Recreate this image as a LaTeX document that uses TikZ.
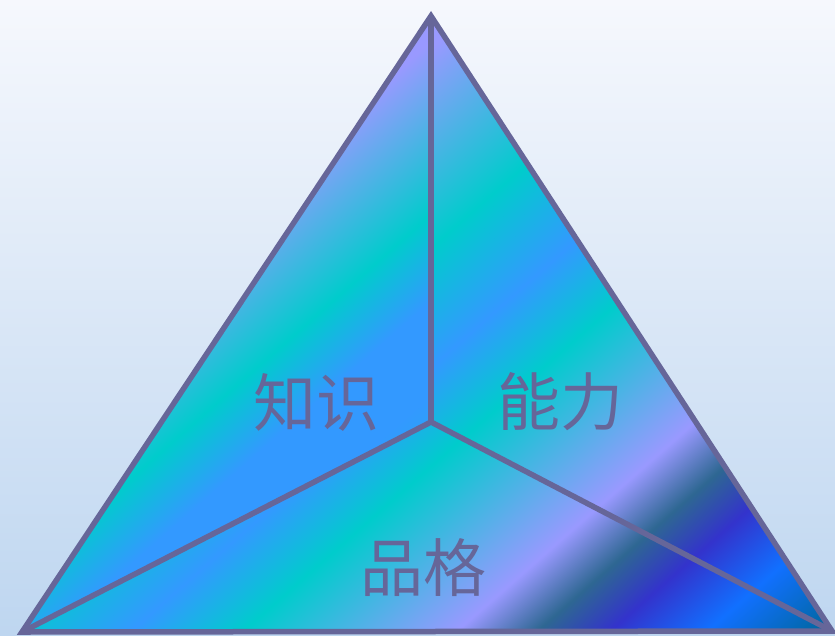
\documentclass[tikz,border=0pt]{standalone}
\usepackage{fontspec}
\newfontfamily\cjk{Noto Sans CJK SC}
\definecolor{bgTop}{RGB}{246,248,253}
\definecolor{bgBot}{RGB}{190,214,240}
\definecolor{edge}{RGB}{102,102,153}
\definecolor{pkLav}{RGB}{153,153,255}
\definecolor{pkTeal}{RGB}{0,204,204}
\definecolor{pkBlue}{RGB}{51,153,255}
\definecolor{pkDark}{RGB}{46,103,146}
\definecolor{pkDB}{RGB}{51,51,204}
\definecolor{pkBright}{RGB}{17,112,255}
\definecolor{pkDeep}{RGB}{0,102,153}
\pgfdeclarehorizontalshading{peacock}{1300pt}{color(0pt)=(pkLav); color(70pt)=(pkLav); color(220pt)=(pkTeal); color(310pt)=(pkBlue); color(384pt)=(pkTeal); color(525pt)=(pkLav); color(578pt)=(pkDark); color(626pt)=(pkDB); color(690pt)=(pkBright); color(771pt)=(pkDeep); color(800pt)=(pkDeep)}
\pgfdeclarehorizontalshading{peacockL}{1300pt}{color(0pt)=(pkLav); color(65pt)=(pkLav); color(195pt)=(pkTeal); color(260pt)=(pkBlue); color(330pt)=(pkBlue); color(370pt)=(pkBlue!80!pkTeal); color(800pt)=(pkBlue!80!pkTeal)}
\tikzset{
  edgeline/.style={draw=edge, line width=5.5pt, line join=miter},
  lbl/.style={text=edge, font=\cjk\fontsize{63}{63}\selectfont, inner sep=0pt},
  shadebox/.style={rotate=-48.7, inner sep=0pt, outer sep=0pt}
}
\begin{document}
\begin{tikzpicture}[x=1pt, y=-1pt]
\useasboundingbox (0,0) rectangle (835,635);
\shade[top color=bgTop, bottom color=bgBot] (0,0) rectangle (835,635);
\coordinate (A) at (431,16);
\coordinate (BL) at (22,632);
\coordinate (BR) at (832,631);
\coordinate (C) at (431,422);
% left piece
\begin{scope}
\clip (A) -- (C) -- (BL) -- cycle;
\node[shadebox] (shL) at (430,488) {\pgfuseshading{peacockL}};
\end{scope}
% right piece
\begin{scope}
\clip (A) -- (BR) -- (C) -- cycle;
\node[shadebox] (shR) at (430,488) {\pgfuseshading{peacock}};
\end{scope}
% bottom piece
\begin{scope}
\clip (C) -- (BR) -- (BL) -- cycle;
\node[shadebox] (shB) at (430,488) {\pgfuseshading{peacock}};
\end{scope}
\draw[edgeline] (A) -- (BR) -- (BL) -- cycle;
\draw[edgeline] (C) -- (A);
\draw[edgeline] (C) -- (BL);
\draw[edgeline] (C) -- (BR);
\node[lbl] (zs) at (316,402) {知识};
\node[lbl] (nl) at (560,402) {能力};
\node[lbl] (pg) at (423,568) {品格};
\end{tikzpicture}
\end{document}
